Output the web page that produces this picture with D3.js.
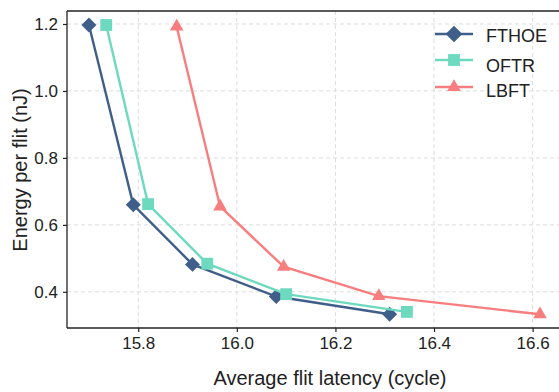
<!DOCTYPE html>
<html>
<head>
<meta charset="utf-8">
<script src="https://cdn.jsdelivr.net/npm/d3@7"></script>
<style>
  body { margin: 0; background: #fff; }
  text { font-family: "Liberation Sans", Arial, sans-serif; fill: #222; }
</style>
</head>
<body>
<svg id="chart" width="559" height="392"></svg>
<script>
// values
var seriesNames = ["FTHOE", "OFTR", "LBFT"];
var fthoeX = [15.70, 15.79, 15.91, 16.08, 16.31];
var fthoeY = [1.197, 0.660, 0.482, 0.386, 0.333];
var oftrX  = [15.735, 15.82, 15.94, 16.10, 16.345];
var oftrY  = [1.197, 0.662, 0.484, 0.393, 0.340];
var lbftX  = [15.878, 15.966, 16.095, 16.288, 16.615];
var lbftY  = [1.192, 0.655, 0.475, 0.387, 0.333];
var xTicks = [15.8, 16.0, 16.2, 16.4, 16.6];
var yTicks = [0.4, 0.6, 0.8, 1.0, 1.2];
var colors = ["#3f5f8a", "#6dd9bf", "#f87d7e"];

var svg = d3.select("#chart"),
    margin = {top: 11, right: 0, bottom: 64, left: 67},
    width = +svg.attr("width") - margin.left - margin.right,
    height = +svg.attr("height") - margin.top - margin.bottom,
    g = svg.append("g").attr("transform", "translate(" + margin.left + "," + margin.top + ")");

var x = d3.scaleLinear().domain([15.6555, 16.6535]).range([0, width]);
var y = d3.scaleLinear().domain([0.292, 1.2388]).range([height, 0]);

// grid
g.append("g").selectAll("line").data(xTicks).enter().append("line")
    .attr("x1", function(d) { return x(d); }).attr("x2", function(d) { return x(d); })
    .attr("y1", 0).attr("y2", height)
    .attr("stroke", "#dcdcdc").attr("stroke-dasharray", "4,3");
g.append("g").selectAll("line").data(yTicks).enter().append("line")
    .attr("y1", function(d) { return y(d); }).attr("y2", function(d) { return y(d); })
    .attr("x1", 0).attr("x2", width)
    .attr("stroke", "#dcdcdc").attr("stroke-dasharray", "4,3");

// axes
var xAxis = g.append("g")
    .attr("transform", "translate(0," + height + ")")
    .call(d3.axisBottom(x).tickValues(xTicks).tickFormat(d3.format(".1f")).tickSizeOuter(0).tickSize(4).tickPadding(5));
var yAxis = g.append("g")
    .call(d3.axisLeft(y).tickValues(yTicks).tickFormat(d3.format(".1f")).tickSizeOuter(0).tickSize(4).tickPadding(5));
[xAxis, yAxis].forEach(function(a) {
    a.select(".domain").attr("stroke", "#222").attr("stroke-width", 1.3);
    a.selectAll(".tick line").attr("stroke", "#222").attr("stroke-width", 1.2);
    a.selectAll(".tick text").attr("font-size", 17).attr("fill", "#222")
        .style("font-family", "Liberation Sans, Arial, sans-serif");
});
xAxis.select(".domain").attr("d", "M0,0H" + width);
yAxis.select(".domain").attr("d", "M0,0V" + height);
g.append("line").attr("x1", 0).attr("x2", width).attr("y1", 0).attr("y2", 0)
    .attr("stroke", "#222").attr("stroke-width", 1.3);

// titles
svg.append("text").attr("x", 330).attr("y", 385).attr("text-anchor", "middle")
    .attr("font-size", 20).text("Average flit latency (cycle)");
svg.append("text").attr("transform", "translate(27," + 170 + ") rotate(-90)")
    .attr("text-anchor", "middle").attr("font-size", 20).text("Energy per flit (nJ)");

// series; diamond = square turned 45 degrees
var series = [
    {name: seriesNames[0], xs: fthoeX, ys: fthoeY, sym: d3.symbolSquare,   size: 112, rot: 45},
    {name: seriesNames[1], xs: oftrX,  ys: oftrY,  sym: d3.symbolSquare,   size: 140, rot: 0},
    {name: seriesNames[2], xs: lbftX,  ys: lbftY,  sym: d3.symbolTriangle, size: 80,  rot: 0}
];
var line = d3.line()
    .x(function(d) { return x(d[0]); })
    .y(function(d) { return y(d[1]); });

series.forEach(function(s, i) {
    var pts = d3.zip(s.xs, s.ys);
    g.append("path").datum(pts)
        .attr("fill", "none").attr("stroke", colors[i]).attr("stroke-width", 2.4)
        .attr("d", line);
    g.selectAll(".m" + i).data(pts).enter().append("path")
        .attr("class", "m" + i)
        .attr("transform", function(d) {
            return "translate(" + x(d[0]) + "," + y(d[1]) + ") rotate(" + s.rot + ")";
        })
        .attr("d", d3.symbol().type(s.sym).size(s.size))
        .attr("fill", colors[i]);
});

// legend
var leg = svg.append("g");
var legY = [34, 60, 87];
var legTextY = [42, 72, 97];
series.forEach(function(s, i) {
    leg.append("line").attr("x1", 435).attr("x2", 473).attr("y1", legY[i]).attr("y2", legY[i])
        .attr("stroke", colors[i]).attr("stroke-width", 2.4);
    leg.append("path")
        .attr("transform", "translate(454," + legY[i] + ") rotate(" + s.rot + ")")
        .attr("d", d3.symbol().type(s.sym).size(i === 0 ? 140 : s.size)).attr("fill", colors[i]);
    leg.append("text").attr("x", 486).attr("y", legTextY[i])
        .attr("font-size", 18).text(s.name);
});
</script>
</body>
</html>
